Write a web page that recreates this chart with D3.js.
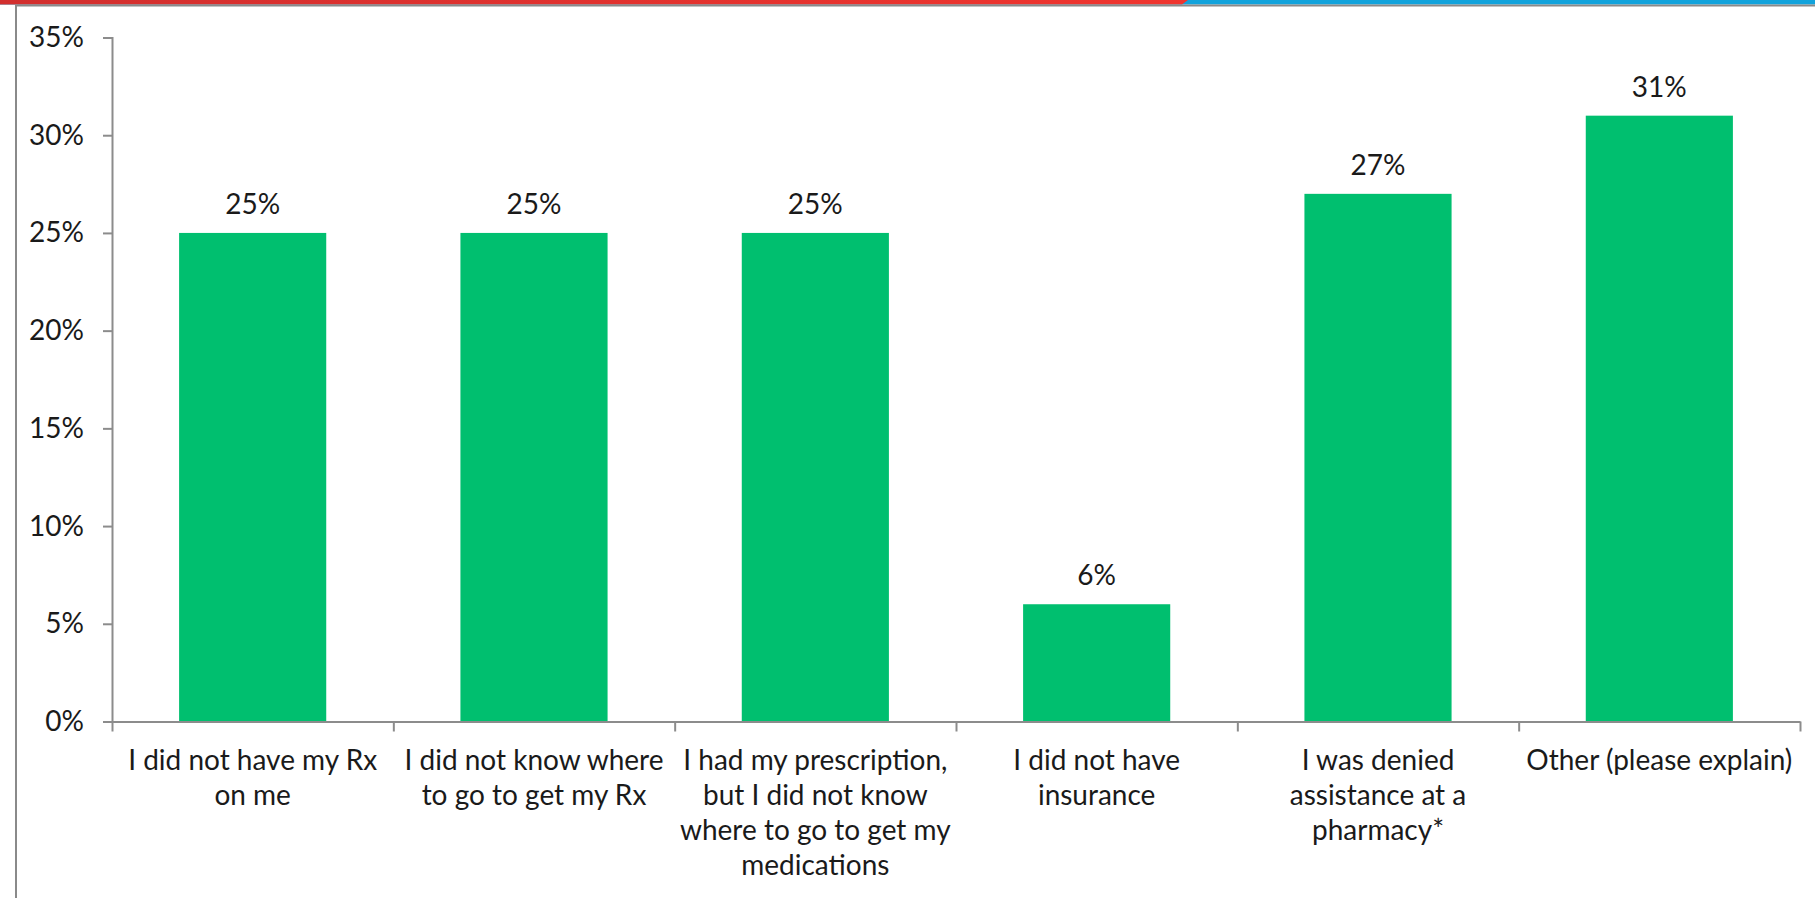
<!DOCTYPE html>
<html>
<head>
<meta charset="utf-8">
<script src="https://cdn.jsdelivr.net/npm/d3@7"></script>
<style>
  html, body { margin: 0; padding: 0; background: #ffffff; }
  svg { display: block; }
  text { font-family: Lato, "Open Sans", "DejaVu Sans", sans-serif; fill: #1a1a1a; }
</style>
</head>
<body>
<svg id="chart" width="1815" height="898"></svg>
<script>
// Survey reasons, one entry per bar; each label is split into its display lines
const categories = [
  ["I did not have my Rx", "on me"],
  ["I did not know where", "to go to get my Rx"],
  ["I had my prescription,", "but I did not know", "where to go to get my", "medications"],
  ["I did not have", "insurance"],
  ["I was denied", "assistance at a", "pharmacy*"],
  ["Other (please explain)"]
];
const values = [0.25, 0.25, 0.25, 0.06, 0.27, 0.31];
const yTicks = [0, 0.05, 0.10, 0.15, 0.20, 0.25, 0.30, 0.35];

const W = 1815, H = 898;
const plotLeft = 112, plotRight = 1800, plotTop = 37.5, plotBottom = 721.5;
const fontSize = 28;
const axisColor = "#8c8c8c";
const barColor = "#00bf6f";

const svg = d3.select("#chart");

// Header stripe: red on the left, blue on the right, with a slanted join
const defs = svg.append("defs");
const rg = defs.append("linearGradient").attr("id", "redStripe").attr("x1", "0").attr("x2", "1");
rg.append("stop").attr("offset", "0").attr("stop-color", "#d22f2e");
rg.append("stop").attr("offset", "1").attr("stop-color", "#f0352f");
svg.append("rect").attr("x", 0).attr("y", 0).attr("width", W).attr("height", 4.5).attr("fill", "#12a3dc");
svg.append("path").attr("d", "M0,0 L1188,0 L1182,4.5 L0,4.5 Z").attr("fill", "url(#redStripe)");

// Slide frame
svg.append("path")
  .attr("d", `M16,${H} L16,5.5 L${W},5.5`)
  .attr("fill", "none").attr("stroke", "#8a8a8a").attr("stroke-width", 2);

// Scales
const idx = d3.range(categories.length);
const x = d3.scaleBand().domain(idx).range([plotLeft, plotRight])
  .paddingInner(0.477).paddingOuter(0.2385);
const y = d3.scaleLinear().domain([0, 0.35]).range([plotBottom, plotTop]);
const xTickScale = d3.scaleLinear().domain([0, categories.length]).range([plotLeft, plotRight]);

// Y axis
const yAxis = svg.append("g").attr("transform", `translate(${plotLeft},0)`)
  .call(d3.axisLeft(y).tickValues(yTicks).tickFormat(d3.format(".0%")).tickSize(9).tickPadding(19));
yAxis.select(".domain").attr("stroke", axisColor).attr("stroke-width", 2);
yAxis.selectAll(".tick line").attr("stroke", axisColor).attr("stroke-width", 2);
yAxis.selectAll(".tick text").attr("font-size", fontSize).attr("font-family", null).attr("fill", "#1a1a1a");

// Bars
svg.append("g").selectAll("rect").data(values).join("rect")
  .attr("x", (d, i) => x(i))
  .attr("y", d => y(d))
  .attr("width", x.bandwidth())
  .attr("height", d => y(0) - y(d))
  .attr("fill", barColor);

// X axis with ticks between categories
const xAxis = svg.append("g").attr("transform", `translate(0,${plotBottom})`)
  .call(d3.axisBottom(xTickScale).tickValues(d3.range(categories.length + 1)).tickFormat("").tickSize(10).tickSizeOuter(0));
xAxis.select(".domain").attr("stroke", axisColor).attr("stroke-width", 2);
xAxis.selectAll(".tick line").attr("stroke", axisColor).attr("stroke-width", 2);

// Value labels
svg.append("g").selectAll("text").data(values).join("text")
  .attr("x", (d, i) => x(i) + x.bandwidth() / 2)
  .attr("y", d => y(d) - 19)
  .attr("text-anchor", "middle")
  .attr("font-size", fontSize)
  .text(d => d3.format(".0%")(d));

// Category labels
const lab = svg.append("g").selectAll("text").data(categories).join("text")
  .attr("x", (d, i) => x(i) + x.bandwidth() / 2)
  .attr("y", 770)
  .attr("text-anchor", "middle")
  .attr("font-size", fontSize);
lab.selectAll("tspan").data(d => d).join("tspan")
  .attr("x", function () { return this.parentNode.getAttribute("x"); })
  .attr("dy", (d, j) => j === 0 ? 0 : 35)
  .text(d => d);
</script>
</body>
</html>
